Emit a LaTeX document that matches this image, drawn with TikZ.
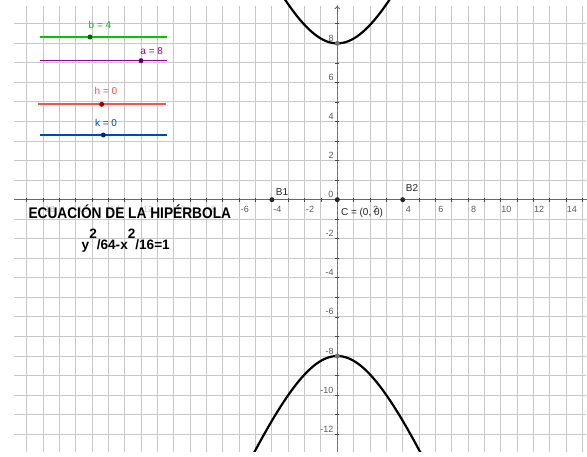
\documentclass[tikz,border=0pt]{standalone}
\usepackage{fontspec}
\setmainfont{Liberation Sans}
\usetikzlibrary{arrows.meta}
\definecolor{gridc}{RGB}{200,200,200}
\definecolor{sgreen}{RGB}{0,200,0}
\definecolor{spurple}{RGB}{153,0,153}
\definecolor{sred}{RGB}{255,77,77}
\definecolor{sblue}{RGB}{0,68,204}
\definecolor{axred}{RGB}{235,50,50}
\definecolor{axmag}{RGB}{210,70,210}
\definecolor{ticklab}{RGB}{90,90,90}
\begin{document}
\begin{tikzpicture}[x=1pt,y=1pt,
  gridline/.style={gridc, line width=1pt},
  ticklabel/.style={font=\fontsize{9}{9}\selectfont, text=ticklab, inner sep=0pt},
  hiddenlabel/.style={font=\fontsize{9}{9}\selectfont, text=ticklab!35, inner sep=0pt},
  ptlabel/.style={font=\fontsize{10}{10}\selectfont, text=black!85, inner sep=0pt},
  ptdot/.style={circle, fill=black!85, inner sep=0pt, minimum size=5pt},
  vxdot/.style={circle, fill=black!55, inner sep=0pt, minimum size=5pt},
  curve/.style={black, line width=2.2pt},
  slider/.style={line width=1.6pt},
  sdot/.style={circle, inner sep=0pt, minimum size=5pt},
  slabel/.style={font=\fontsize{10}{10}\selectfont, inner sep=0pt}
]
\useasboundingbox (0,0) rectangle (587,456);
\fill[white] (0,0) rectangle (587,456);
\begin{scope}[shift={(337.3,256.3)}, x=16.35pt, y=19.54pt]
  % grid
  \foreach \m in {-12,...,9} \draw[gridline] (-19.77,\m) -- (15.21,\m);
  \foreach \n in {-19,...,15} \draw[gridline] (\n,-12.91) -- (\n,9.91);
  % x axis
  \draw[black!60, line width=0.8pt] (-19.77,0) -- (15.27,0);
  \draw[axred, line width=1.3pt, dash pattern=on 3pt off 2pt] (-19.77,0) -- (15.27,0);
  \foreach \n in {-19,...,15} \draw[black!70, line width=0.8pt] (\n,-0.1) -- (\n,0.1);
  % y axis
  \draw[black!60, line width=0.8pt, -{To[length=4pt,width=6pt]}] (0,-12.91) -- (0,9.95);
  \draw[axmag, line width=1.3pt, dash pattern=on 3pt off 2pt] (0,-12.91) -- (0,9.6);
  \foreach \m in {-12,...,9} \draw[black!70, line width=0.8pt] (-0.12,\m) -- (0.12,\m);
  % tick labels
  \foreach \n in {-6,-4,-2,2,4,6,8,10,12,14}
    \node[ticklabel] at (\n+0.34,-0.51) {\n};
  \foreach \n in {-18,-16,-14,-12,-10,-8}
    \node[hiddenlabel] at (\n+0.34,-0.51) {\n};
  \foreach \m in {-12,-10,-8,-6,-4,-2,2,4,6,8}
    \node[ticklabel, anchor=east] at (-0.22,\m+0.26) {\m};
  \node[ticklabel] (O) at (-0.39,0.29) {0};
  % hyperbola
  \begin{scope}
    \clip (-20.63,-12.91) rectangle (15.27,10.3);
    \draw[curve] plot[domain=-3.6:3.6, samples=90, smooth] (\x,{8*sqrt(1+\x*\x/16)});
    \draw[curve] plot[domain=-5.5:5.5, samples=120, smooth] (\x,{-8*sqrt(1+\x*\x/16)});
  \end{scope}
  % points
  \node[vxdot] (V1) at (0,8) {};
  \node[vxdot] (V2) at (0,-8) {};
  \node[ptdot] (B1) at (-4,0) {};
  \node[ptdot] (B2) at (4,0) {};
  \node[ptdot] (C) at (0,0) {};
  \node[ptlabel] (B1lab) at (-3.38,0.39) {B1};
  \node[ptlabel] (B2lab) at (4.57,0.6) {B2};
  \node[ptlabel] (Clab) at (1.51,-0.68) {C = (0, 0)};
\end{scope}
% title and equation
\node[anchor=base west, inner sep=0pt, font=\bfseries\fontsize{15.4}{15.4}\selectfont] (title) at (28.3,237.7) {\scalebox{0.89}[1]{ECUACIÓN DE LA HIPÉRBOLA}};
\node[anchor=base west, inner sep=0pt, font=\bfseries\fontsize{13.6}{13.6}\selectfont] (eq) at (81.5,206) {y\raisebox{11pt}{2}/64-x\raisebox{11pt}{2}/16=1};
% sliders
\draw[slider, sgreen] (40,419) -- (167,419);
\node[sdot, fill=green!40!black] (sb) at (90,419) {};
\node[slabel, text=sgreen] (lb) at (100,431) {b = 4};
\draw[slider, spurple] (40,395.3) -- (167,395.3);
\node[sdot, fill=spurple!60!black] (sa) at (141,395.3) {};
\node[slabel, text=spurple] (la) at (151.7,405.3) {a = 8};
\draw[slider, sred] (38,351.7) -- (165.7,351.7);
\node[sdot, fill=red!60!black] (sh) at (101.7,351.7) {};
\node[slabel, text=sred] (lh) at (106,365) {h = 0};
\draw[slider, sblue] (40,321) -- (167,321);
\node[sdot, fill=sblue!60!black] (sk) at (103.3,321) {};
\node[slabel, text=sblue] (lk) at (106,333.3) {k = 0};
\end{tikzpicture}
\end{document}
